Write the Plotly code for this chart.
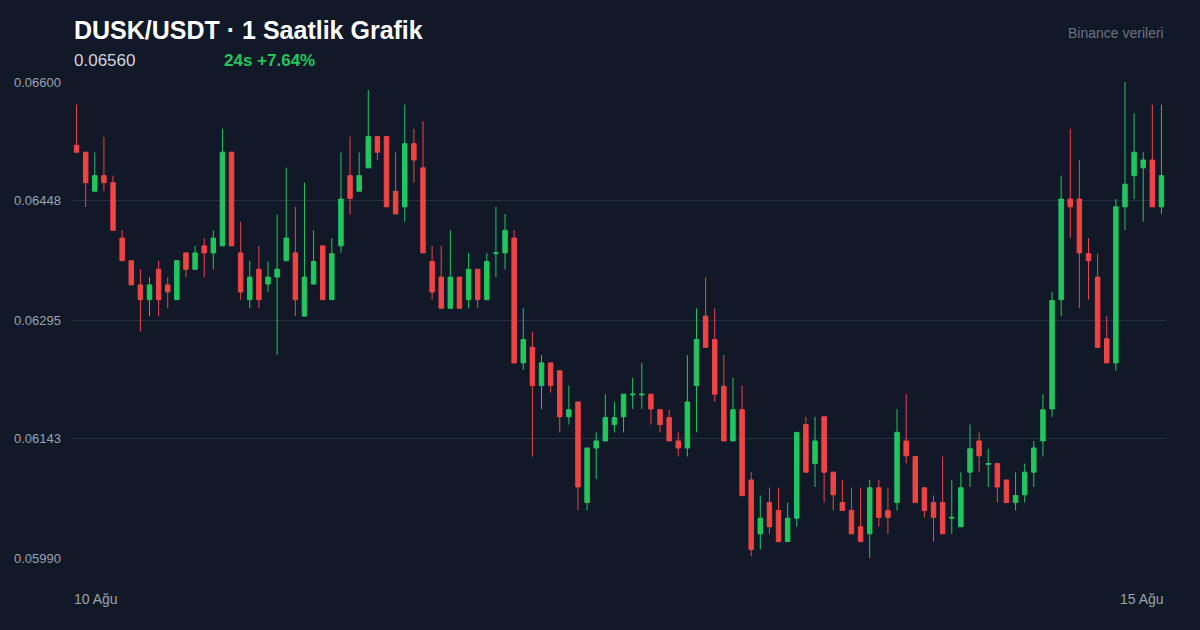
import plotly.graph_objects as go

opens = [.06519,.06510,.06460,.06480,.06471,.06400,.06371,.06340,.06321,.06360,
 .06340,.06321,.06381,.06360,.06390,.06381,.06390,.06510,.06381,.06321,
 .06360,.06341,.06350,.06371,.06381,.06300,.06341,.06390,.06321,.06390,
 .06480,.06460,.06490,.06530,.06530,.06460,.06440,.06521,.06490,.06370,
 .06350,.06310,.06350,.06321,.06360,.06321,.06380,.06381,.06400,.06240,
 .06260,.06211,.06240,.06230,.06171,.06190,.06061,.06131,.06140,.06161,
 .06171,.06199,.06199,.06200,.06180,.06170,.06140,.06131,.06211,.06300,
 .06270,.06210,.06140,.06180,.06090,.06021,.06061,.06051,.06011,.06041,
 .06161,.06111,.06171,.06100,.06061,.06051,.06030,.06021,.06080,.06051,
 .06061,.06140,.06120,.06080,.06061,.06061,.06041,.06030,.06100,.06140,
 .06110,.06111,.06090,.06061,.06071,.06100,.06140,.06181,.06321,.06450,
 .06450,.06380,.06350,.06271,.06240,.06440,.06480,.06490,.06500,.06440]
highs = [.06571,.06510,.06510,.06530,.06480,.06410,.06371,.06360,.06350,.06371,
 .06350,.06371,.06381,.06390,.06400,.06410,.06540,.06510,.06421,.06371,
 .06390,.06370,.06430,.06490,.06440,.06471,.06410,.06390,.06400,.06510,
 .06530,.06510,.06590,.06530,.06530,.06510,.06571,.06540,.06550,.06390,
 .06390,.06410,.06350,.06381,.06360,.06381,.06440,.06431,.06410,.06310,
 .06280,.06250,.06240,.06230,.06211,.06190,.06131,.06151,.06200,.06190,
 .06200,.06221,.06240,.06200,.06180,.06180,.06151,.06250,.06310,.06350,
 .06310,.06250,.06221,.06211,.06100,.06070,.06080,.06080,.06061,.06151,
 .06171,.06171,.06171,.06100,.06090,.06080,.06080,.06090,.06090,.06080,
 .06181,.06200,.06120,.06080,.06070,.06120,.06090,.06100,.06161,.06151,
 .06130,.06111,.06090,.06100,.06111,.06140,.06200,.06331,.06480,.06540,
 .06500,.06400,.06380,.06300,.06450,.06600,.06560,.06510,.06571,.06571]
lows = [.06510,.06440,.06460,.06460,.06410,.06371,.06340,.06280,.06300,.06300,
 .06310,.06321,.06350,.06360,.06350,.06360,.06390,.06390,.06321,.06310,
 .06310,.06331,.06250,.06371,.06300,.06300,.06341,.06321,.06321,.06381,
 .06430,.06460,.06490,.06500,.06440,.06431,.06421,.06471,.06381,.06321,
 .06310,.06310,.06310,.06310,.06310,.06321,.06350,.06360,.06240,.06231,
 .06120,.06181,.06202,.06151,.06161,.06051,.06051,.06091,.06140,.06151,
 .06151,.06181,.06181,.06161,.06151,.06140,.06120,.06120,.06151,.06260,
 .06190,.06140,.06140,.06070,.05992,.06001,.06021,.06011,.06011,.06030,
 .06100,.06081,.06061,.06051,.06051,.06021,.06011,.05990,.06030,.06021,
 .06051,.06111,.06061,.06042,.06011,.06021,.06021,.06030,.06081,.06100,
 .06081,.06061,.06061,.06051,.06061,.06081,.06120,.06171,.06300,.06400,
 .06310,.06321,.06260,.06240,.06230,.06410,.06450,.06421,.06440,.06431]
closes = [.06510,.06471,.06480,.06471,.06410,.06371,.06340,.06321,.06340,.06321,
 .06331,.06371,.06360,.06381,.06381,.06400,.06510,.06390,.06331,.06350,
 .06321,.06350,.06360,.06400,.06321,.06350,.06370,.06321,.06380,.06450,
 .06451,.06480,.06530,.06510,.06440,.06431,.06521,.06500,.06381,.06331,
 .06310,.06350,.06310,.06360,.06321,.06370,.06381,.06410,.06240,.06270,
 .06211,.06240,.06211,.06171,.06180,.06081,.06131,.06140,.06170,.06170,
 .06200,.06200,.06200,.06181,.06161,.06140,.06131,.06190,.06270,.06260,
 .06200,.06140,.06180,.06070,.06001,.06041,.06030,.06011,.06041,.06151,
 .06100,.06140,.06100,.06071,.06051,.06021,.06011,.06080,.06042,.06042,
 .06151,.06121,.06061,.06051,.06042,.06021,.06042,.06080,.06130,.06121,
 .06111,.06081,.06061,.06070,.06100,.06131,.06180,.06320,.06450,.06440,
 .06381,.06371,.06260,.06240,.06440,.06469,.06510,.06500,.06440,.06480]
x = list(range(len(opens)))
tick_vals = [0.05990, 0.06143, 0.06295, 0.06448, 0.06600]
tick_text = ["0.05990", "0.06143", "0.06295", "0.06448", "0.06600"]

BG = "#111827"
fig = go.Figure(go.Candlestick(
    x=x, open=opens, high=highs, low=lows, close=closes,
    increasing=dict(line=dict(color="#22c55e", width=1), fillcolor="#22c55e"),
    decreasing=dict(line=dict(color="#ef4444", width=1), fillcolor="#ef4444"),
    whiskerwidth=0, hoverinfo="skip"))
fig.update_layout(
    width=1200, height=630, paper_bgcolor=BG, plot_bgcolor=BG,
    margin=dict(l=72, r=34, t=82, b=72), showlegend=False,
    font=dict(family="Liberation Sans, Arial, sans-serif", color="#9ca3af"),
    xaxis=dict(range=[-0.5, 119.5], showgrid=False, showticklabels=False,
               zeroline=False, rangeslider=dict(visible=False), fixedrange=True),
    yaxis=dict(range=[0.05990, 0.06600], tickvals=tick_vals, ticktext=tick_text,
               gridcolor="#243041", gridwidth=1, zeroline=False, ticks="",
               tickfont=dict(size=13, color="#9ca3af"), ticklabelstandoff=10),
)
ann = [
    dict(text="<b>DUSK/USDT · 1 Saatlik Grafik</b>", x=72, y=30, font=dict(size=25, color="#ffffff"), xanchor="left"),
    dict(text="0.06560", x=72, y=61, font=dict(size=17, color="#d1d5db"), xanchor="left"),
    dict(text="<b>24s +7.64%</b>", x=222, y=61, font=dict(size=17, color="#22c55e"), xanchor="left"),
    dict(text="Binance verileri", x=1166, y=33, font=dict(size=14, color="#6b7280"), xanchor="right"),
    dict(text="10 Ağu", x=72, y=599, font=dict(size=14, color="#9ca3af"), xanchor="left"),
    dict(text="15 Ağu", x=1166, y=599, font=dict(size=14, color="#9ca3af"), xanchor="right"),
]
for a in ann:
    fig.add_annotation(xref="paper", yref="paper", x=(a["x"]-72)/1094, y=(558-a["y"])/476,
                       text=a["text"], font=a["font"], xanchor=a["xanchor"], yanchor="middle",
                       showarrow=False)
fig.write_html("out.html", config={"displayModeBar": False},
               post_script="document.body.style.margin='0';document.body.style.background='#111827';")
